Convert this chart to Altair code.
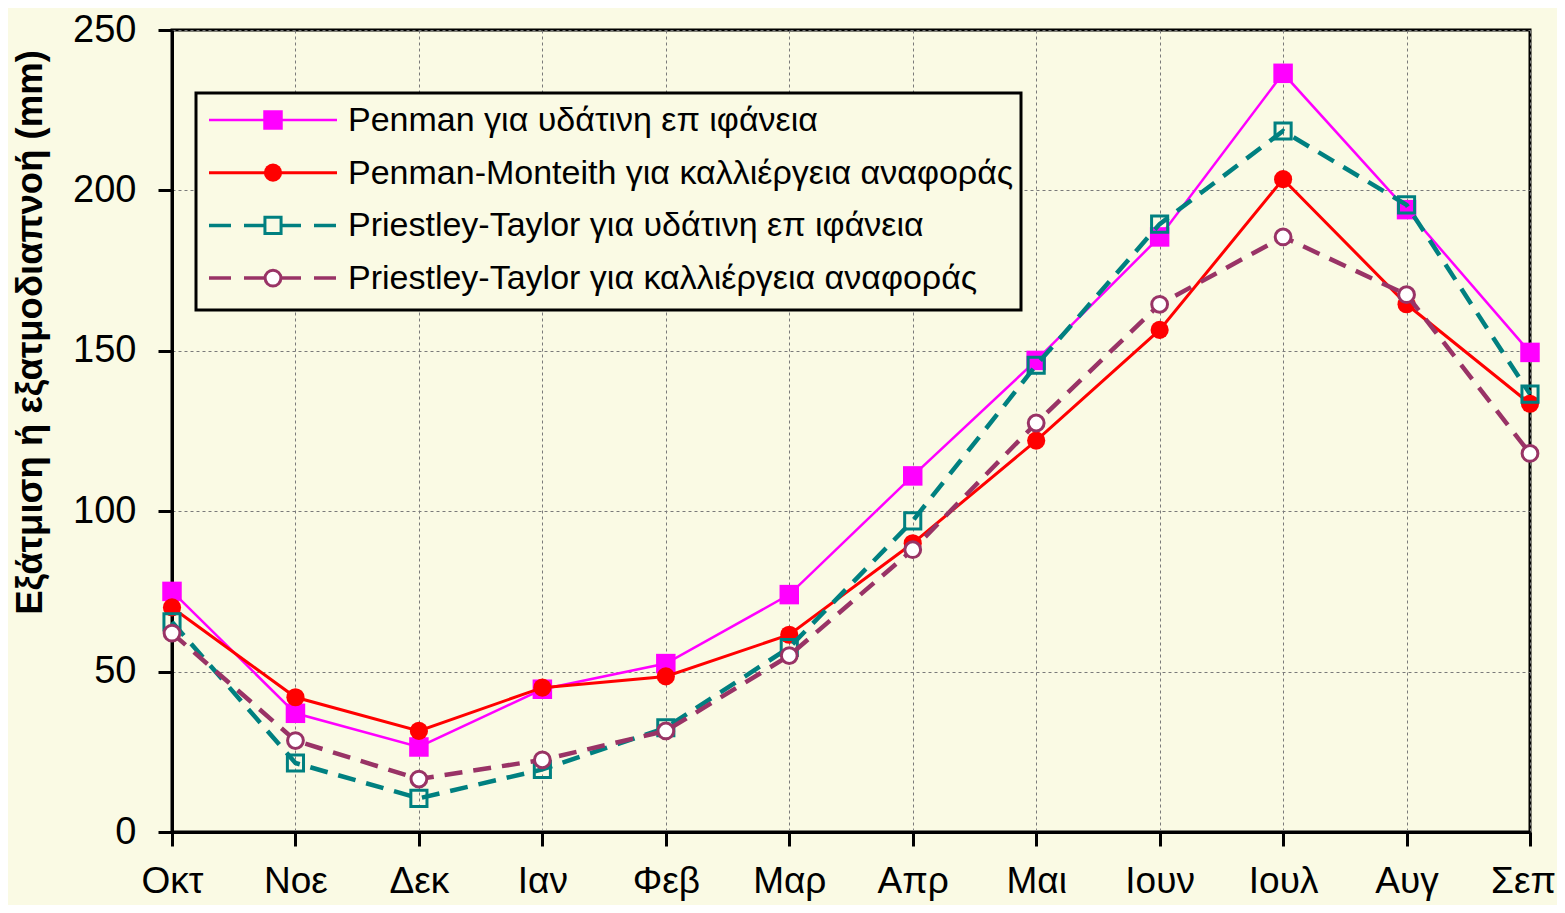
import altair as alt
import pandas as pd

months = ["Οκτ", "Νοε", "Δεκ", "Ιαν", "Φεβ", "Μαρ", "Απρ", "Μαι", "Ιουν", "Ιουλ", "Αυγ", "Σεπ"]

series_names = [
    "Penman για υδάτινη επ ιφάνεια",
    "Penman-Monteith για καλλιέργεια αναφοράς",
    "Priestley-Taylor για υδάτινη επ ιφάνεια",
    "Priestley-Taylor για καλλιέργεια αναφοράς",
]

penman_water = [75, 37, 26.5, 44.5, 52.5, 74, 111, 147, 185.5, 236.5, 194, 149.5]
penman_monteith = [70, 42, 31.5, 45, 48.5, 61.5, 90, 122, 156.5, 203.5, 164.5, 133.5]
pt_water = [65.5, 21.5, 10.5, 19.5, 32.5, 57.5, 97, 145.5, 189.5, 218.5, 195.5, 136.5]
pt_crop = [62, 28.5, 16.5, 22.5, 31.5, 55, 88, 127.5, 164.5, 185.5, 167.5, 118]

all_values = [penman_water, penman_monteith, pt_water, pt_crop]

BG = "#FAFAE4"
FONT = "Liberation Sans"

styles = [
    dict(color="#FF00FF", width=2.5, dash=None, shape="square", filled=True, fill="#FF00FF", size=380, sw=0),
    dict(color="#FF0000", width=3, dash=None, shape="circle", filled=True, fill="#FF0000", size=330, sw=0),
    dict(color="#008080", width=4.5, dash=[18, 11], shape="square", filled=False, fill=None, size=260, sw=3),
    dict(color="#993366", width=4.5, dash=[18, 11], shape="circle", filled=True, fill="white", size=250, sw=3),
]

x_enc = alt.X(
    "month:N",
    sort=months,
    scale=alt.Scale(type="point", padding=0, domain=months),
    axis=alt.Axis(
        title=None,
        labelAngle=0,
        grid=True,
        gridColor="#7a7a7a",
        gridDash=[3, 3],
        gridWidth=1,
        domainColor="black",
        domainWidth=3,
        tickColor="black",
        tickWidth=3,
        tickSize=14,
        labelFont=FONT,
        labelFontSize=37,
        labelColor="black",
        labelPadding=17,
        labelOverlap=False,
        labelOffset=alt.condition("datum.value == 'Σεπ'", alt.value(-7), alt.value(0)),
    ),
)

y_axis = alt.Axis(
    values=[0, 50, 100, 150, 200, 250],
    grid=True,
    gridColor="#7a7a7a",
    gridDash=[3, 3],
    gridWidth=1,
    domainColor="black",
    domainWidth=3,
    tickColor="black",
    tickWidth=3,
    tickSize=14,
    labelFont=FONT,
    labelFontSize=38,
    labelColor="black",
    labelPadding=22,
    labelOverlap=False,
    labelFlush=False,
    title="Εξάτμιση ή εξατμοδιαπνοή (mm)",
    titleFont=FONT,
    titleFontSize=36.5,
    titleFontWeight="bold",
    titleColor="black",
    titleAngle=270,
    titleAlign="center",
    titleBaseline="bottom",
    titleX=-123,
    titleY=302,
)

y_enc = alt.Y(
    "value:Q",
    scale=alt.Scale(domain=[0, 250], nice=False, zero=True),
    axis=y_axis,
)

layers = []
for i, (name, vals, st) in enumerate(zip(series_names, all_values, styles)):
    df = pd.DataFrame({"month": months, "value": vals, "series": name})
    line_kw = dict(color=st["color"], strokeWidth=st["width"])
    if st["dash"]:
        line_kw["strokeDash"] = st["dash"]
    line = alt.Chart(df).mark_line(**line_kw).encode(x=x_enc, y=y_enc)
    pt_kw = dict(shape=st["shape"], size=st["size"], opacity=1)
    if st["filled"]:
        pt_kw.update(filled=True, fill=st["fill"])
        if st["sw"]:
            pt_kw.update(stroke=st["color"], strokeWidth=st["sw"])
        else:
            pt_kw.update(strokeWidth=0)
    else:
        pt_kw.update(filled=False, stroke=st["color"], strokeWidth=st["sw"])
    pts = alt.Chart(df).mark_point(**pt_kw).encode(x=x_enc, y=y_enc)
    layers += [line, pts]

# Legend (manual, drawn in plot pixel space)
box_df = pd.DataFrame({"k": [0]})
legend_box = alt.Chart(box_df).mark_rect(
    fill=BG, stroke="black", strokeWidth=3
).encode(x=alt.value(24), x2=alt.value(849), y=alt.value(63), y2=alt.value(280))
layers.append(legend_box)

row_y0 = 90
row_step = 52.7
for i, (name, st) in enumerate(zip(series_names, styles)):
    ry = row_y0 + i * row_step
    ldf = pd.DataFrame({"name": [name]})
    lkw = dict(color=st["color"], strokeWidth=st["width"] if st["dash"] is None else 3.5)
    if st["dash"]:
        lkw["strokeDash"] = [22, 13]
    seg = alt.Chart(ldf).mark_rule(**lkw).encode(
        x=alt.value(37), x2=alt.value(165), y=alt.value(ry)
    )
    pt_kw = dict(shape=st["shape"], size=st["size"], opacity=1)
    if st["filled"]:
        pt_kw.update(filled=True, fill=st["fill"])
        if st["sw"]:
            pt_kw.update(stroke=st["color"], strokeWidth=st["sw"])
        else:
            pt_kw.update(strokeWidth=0)
    else:
        pt_kw.update(filled=True, fill=BG, stroke=st["color"], strokeWidth=st["sw"])
    mk = alt.Chart(ldf).mark_point(**pt_kw).encode(x=alt.value(101), y=alt.value(ry))
    txt = alt.Chart(ldf).mark_text(
        align="left", baseline="middle", font=FONT, fontSize=34, color="black"
    ).encode(x=alt.value(176), y=alt.value(ry + 1), text="name:N")
    layers += [seg, mk, txt]

chart = (
    alt.layer(*layers)
    .properties(
        width=1358,
        height=802,
        background=BG,
        padding={"left": 164, "top": 22, "right": 27, "bottom": 73},
        autosize=alt.AutoSizeParams(type="none"),
    )
    .configure_view(stroke="black", strokeWidth=3, fill=BG)
)

chart.save("out.html", embed_options={"renderer": "svg", "actions": False})
